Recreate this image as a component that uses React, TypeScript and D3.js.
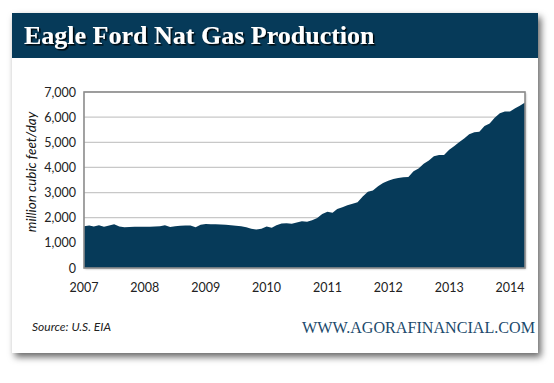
import React from "react";
import * as d3 from "d3";

const startYear = 2007;
const startMonth = 0; // January
const production: number[] = [
  // 2007
  1660, 1690, 1650, 1700, 1640, 1690, 1740, 1650, 1620, 1630, 1640, 1640,
  // 2008
  1640, 1640, 1650, 1660, 1700, 1630, 1660, 1680, 1690, 1690, 1620, 1720,
  // 2009
  1750, 1740, 1740, 1730, 1720, 1700, 1680, 1660, 1620, 1560, 1530, 1560,
  // 2010
  1650, 1600, 1700, 1770, 1780, 1760, 1810, 1860, 1840, 1900, 1990, 2150,
  // 2011
  2240, 2200, 2350, 2420, 2500, 2560, 2620, 2840, 3030, 3080, 3250, 3380,
  // 2012
  3470, 3540, 3580, 3610, 3620, 3850, 3960, 4150, 4280, 4440, 4490, 4490,
  // 2013
  4700, 4850, 5000, 5150, 5320, 5400, 5420, 5650, 5750, 5980, 6150, 6220,
  // 2014
  6220, 6350, 6450, 6580,
];
const yTicks = [0, 1000, 2000, 3000, 4000, 5000, 6000, 7000];
const xTickYears = [2007, 2008, 2009, 2010, 2011, 2012, 2013, 2014];
const titleText = "Eagle Ford Nat Gas Production";
const yAxisTitle = "million cubic feet/day";
const sourceText = "Source: U.S. EIA";
const siteText = "WWW.AGORAFINANCIAL.COM";

const W = 554;
const H = 383;
const card = { x: 12, y: 13, w: 526, h: 340 };
const plot = { left: 84, right: 525, top: 92, bottom: 268 };
const navy = "#063a59";

export default function App() {
  const data = production.map((v, i) => ({
    date: new Date(startYear, startMonth + i, 1),
    value: v,
  }));
  const x = d3
    .scaleTime()
    .domain([data[0].date, data[data.length - 1].date])
    .range([plot.left, plot.right]);
  const y = d3.scaleLinear().domain([0, 7000]).range([plot.bottom, plot.top]);
  const area = d3
    .area<{ date: Date; value: number }>()
    .x((d) => x(d.date))
    .y0(y(0))
    .y1((d) => y(d.value));
  const fmt = d3.format(",");
  const sans = "Lato, 'Open Sans', sans-serif";

  return (
    <svg
      width={W}
      height={H}
      style={{ position: "absolute", left: 0, top: 0, background: "#fff" }}
    >
      <defs>
        <filter id="cardShadow" x="-5%" y="-5%" width="115%" height="120%">
          <feDropShadow dx="3" dy="4" stdDeviation="3.5" floodColor="#000" floodOpacity="0.6" />
        </filter>
        <filter id="textShadow" x="-5%" y="-20%" width="115%" height="150%">
          <feDropShadow dx="1.5" dy="1.5" stdDeviation="0.6" floodColor="#000" floodOpacity="0.9" />
        </filter>
        <filter id="plotShadow" x="-5%" y="-5%" width="110%" height="110%">
          <feDropShadow dx="1" dy="1" stdDeviation="1" floodColor="#000" floodOpacity="0.3" />
        </filter>
      </defs>
      <rect x={card.x} y={card.y} width={card.w} height={card.h} fill="#fff" filter="url(#cardShadow)" />
      <rect x={card.x} y={card.y} width={card.w} height={45} fill={navy} />
      <text
        x={24}
        y={44}
        fill="#fff"
        fontFamily="'Liberation Serif', 'DejaVu Serif', serif"
        fontWeight="bold"
        fontSize={26}
        filter="url(#textShadow)"
      >
        {titleText}
      </text>

      <rect
        x={plot.left}
        y={plot.top}
        width={plot.right - plot.left}
        height={plot.bottom - plot.top}
        fill="#fff"
        filter="url(#plotShadow)"
      />
      {yTicks.map((t) => (
        <line
          key={"g" + t}
          x1={plot.left}
          x2={plot.right}
          y1={y(t)}
          y2={y(t)}
          stroke="#c8c8c8"
          strokeWidth={1.2}
        />
      ))}
      <path d={area(data) || ""} fill={navy} />
      <rect
        x={plot.left}
        y={plot.top}
        width={plot.right - plot.left}
        height={plot.bottom - plot.top}
        fill="none"
        stroke="#8c8c8c"
        strokeWidth={1.6}
      />

      {yTicks.map((t) => (
        <text
          key={"y" + t}
          x={76}
          y={y(t) + 4.5}
          textAnchor="end"
          fontFamily={sans}
          fontSize={12.5}
          fill="#222"
        >
          {fmt(t)}
        </text>
      ))}
      {xTickYears.map((yr) => (
        <text
          key={"x" + yr}
          x={x(new Date(yr, 0, 1))}
          y={292}
          textAnchor="middle"
          fontFamily={sans}
          fontSize={12.5}
          fill="#222"
        >
          {yr}
        </text>
      ))}
      <text
        transform={`translate(36, ${(plot.top + plot.bottom) / 2 - 8}) rotate(-90)`}
        textAnchor="middle"
        fontFamily={sans}
        fontStyle="italic"
        fontSize={13.5}
        fill="#111"
      >
        {yAxisTitle}
      </text>

      <text x={32} y={331} fontFamily={sans} fontStyle="italic" fontSize={12} fill="#222">
        {sourceText}
      </text>
      <text
        x={535}
        y={333}
        textAnchor="end"
        fontFamily="'Liberation Serif', 'DejaVu Serif', serif"
        fontSize={16.5}
        fill="#1c4a6c"
        textLength={233}
        lengthAdjust="spacingAndGlyphs"
      >
        {siteText}
      </text>
    </svg>
  );
}
